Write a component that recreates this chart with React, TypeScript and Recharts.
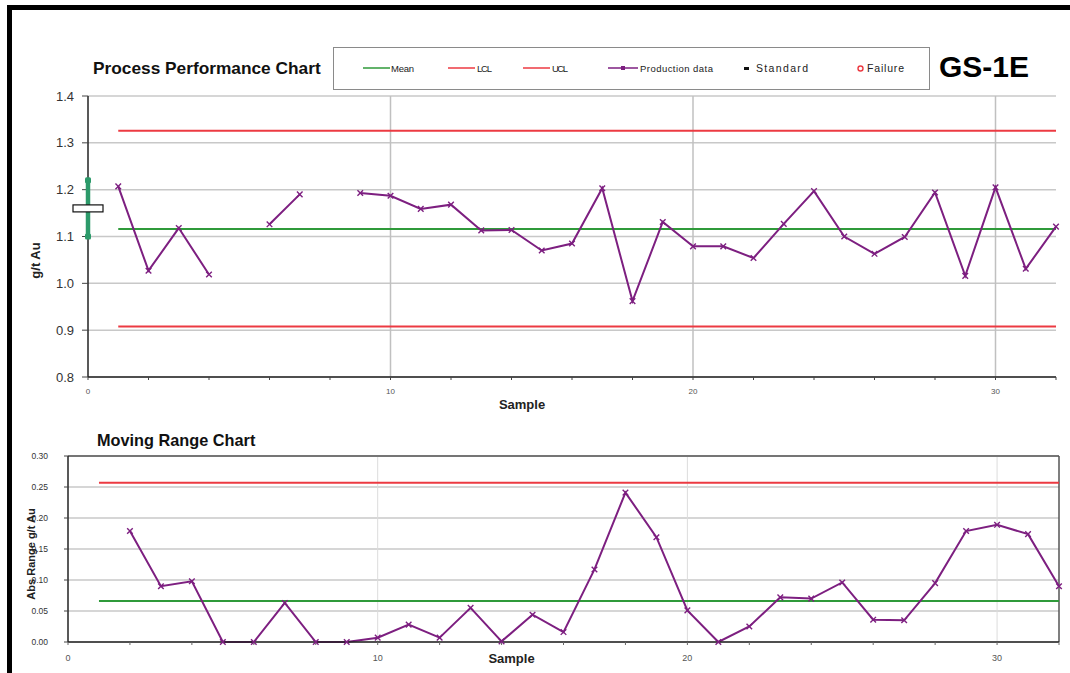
import React from 'react';
import {
  ComposedChart, Line, Scatter, XAxis, YAxis, CartesianGrid, ReferenceLine
} from 'recharts';

const FONT = '"Liberation Sans", Arial, sans-serif';

// sample numbers on the x axis
const samples = [1, 2, 3, 4, 5, 6, 7, 8, 9, 10, 11, 12, 13, 14, 15, 16,
  17, 18, 19, 20, 21, 22, 23, 24, 25, 26, 27, 28, 29, 30, 31, 32];

// g/t Au per sample (gaps = no assay)
const grade = [1.207, 1.027, 1.118, 1.019, null, 1.126, 1.190, null, 1.193, 1.187,
  1.159, 1.168, 1.113, 1.114, 1.070, 1.085, 1.203, 0.962, 1.131, 1.079,
  1.079, 1.054, 1.127, 1.197, 1.100, 1.063, 1.099, 1.194, 1.016, 1.205,
  1.031, 1.121];

// absolute moving range
const movingRange = [null, 0.179, 0.090, 0.098, 0, 0, 0.063, 0, 0, 0.007,
  0.028, 0.007, 0.055, 0.001, 0.044, 0.016, 0.117, 0.241, 0.169, 0.051,
  0, 0.025, 0.072, 0.070, 0.096, 0.036, 0.035, 0.095, 0.179, 0.189,
  0.174, 0.090];

const gradeMean = 1.116;
const gradeLCL = 0.908;
const gradeUCL = 1.326;
const rangeMean = 0.066;
const rangeUCL = 0.257;

// certified standard
const standardValue = 1.16;
const standardLow = 1.10;
const standardHigh = 1.22;

const gradeTicks = [0.8, 0.9, 1.0, 1.1, 1.2, 1.3, 1.4];
const rangeTicks = [0, 0.05, 0.1, 0.15, 0.2, 0.25, 0.3];
const sampleTicks = [0, 2, 4, 6, 8, 10, 12, 14, 16, 18, 20, 22, 24, 26, 28, 30, 32];
const majorSamples = [10, 20, 30];

const PURPLE = '#7d1f80';
const GREEN = '#2f9a3a';
const RED = '#ec3a42';
const STD_GREEN = '#2c9a6a';
const GRID = '#c8c8c8';

const processData = samples.map((s, i) => ({ sample: s, grade: grade[i] }));
const rangeData = samples.map((s, i) => ({ sample: s, range: movingRange[i] }));
const standardData = [{ sample: 0, value: standardValue }];
const standardEnds = [{ sample: 0, value: standardLow }, { sample: 0, value: standardHigh }];

const sampleLabel = (v: number) => (v % 10 === 0 ? String(v) : '');

// small "x" marker used for production points
const CrossDot = (props: any) => {
  const { cx, cy, value, index } = props;
  if (value == null || cx == null || cy == null) return <g key={`d${index}`} />;
  const s = 2.8;
  return (
    <path
      key={`d${index}`}
      d={`M${cx - s},${cy - s}L${cx + s},${cy + s}M${cx - s},${cy + s}L${cx + s},${cy - s}`}
      stroke={PURPLE}
      strokeWidth={1.4}
      fill="none"
    />
  );
};

const StandardBox = (props: any) => {
  const { cx, cy } = props;
  return <rect x={cx - 15} y={cy - 3.5} width={30} height={7} fill="#fff" stroke="#111" strokeWidth={1.2} />;
};

const StandardEnd = (props: any) => {
  const { cx, cy } = props;
  return <rect x={cx - 3} y={cy - 3} width={6} height={6} rx={1.5} fill={STD_GREEN} />;
};

const legendText = { fontSize: 9.5, fill: '#222', lengthAdjust: 'spacing' as const };

const Legend = () => (
  <div style={{ position: 'absolute', left: 333, top: 47, width: 597, height: 43, border: '1px solid #8a8a8a', boxSizing: 'border-box' }}>
    <svg width={595} height={41} style={{ display: 'block', fontFamily: FONT }}>
      <line x1={29} x2={56} y1={20} y2={20} stroke={GREEN} strokeWidth={1.5} />
      <text x={57} y={23.5} textLength={23} {...legendText}>Mean</text>
      <line x1={114} x2={141} y1={20} y2={20} stroke={RED} strokeWidth={1.5} />
      <text x={143} y={23.5} textLength={15} {...legendText}>LCL</text>
      <line x1={189} x2={216} y1={20} y2={20} stroke={RED} strokeWidth={1.5} />
      <text x={218} y={23.5} textLength={16} {...legendText}>UCL</text>
      <line x1={274} x2={304} y1={20} y2={20} stroke={PURPLE} strokeWidth={1.5} />
      <rect x={287} y={18} width={4} height={4} fill={PURPLE} />
      <text x={306} y={23.5} textLength={73} {...legendText}>Production data</text>
      <rect x={410} y={19} width={5} height={3} fill="#111" />
      <text x={422} y={23.5} textLength={52} {...legendText} fontSize={10.5}>Standard</text>
      <circle cx={526.5} cy={20.5} r={2.5} fill="none" stroke={RED} strokeWidth={1.4} />
      <text x={533} y={23.5} textLength={37} {...legendText} fontSize={10.5}>Failure</text>
    </svg>
  </div>
);

export default function App() {
  return (
    <div style={{ position: 'absolute', left: 0, top: 0, width: 1070, height: 673, background: '#fff', overflow: 'hidden', fontFamily: FONT }}>
      <div style={{ position: 'absolute', left: 7, top: 5, right: 0, bottom: 0, borderTop: '5px solid #000', borderLeft: '5px solid #000' }} />

      <div style={{ position: 'absolute', left: 93, top: 60, fontSize: 17.3, lineHeight: 1, fontWeight: 'bold', color: '#111' }}>
        Process Performance Chart
      </div>
      <Legend />
      <div style={{ position: 'absolute', left: 939, top: 52, fontSize: 30, lineHeight: 1, fontWeight: 'bold', color: '#000' }}>
        GS-1E
      </div>

      <div style={{ position: 'absolute', left: 0, top: 0 }}>
        <ComposedChart width={1070} height={420} data={processData} margin={{ top: 96, right: 14, left: 38, bottom: 9 }}>
          <CartesianGrid vertical={false} stroke={GRID} strokeWidth={1.5} />
          {majorSamples.map(s => (
            <ReferenceLine key={s} x={s} stroke="#c0c0c0" strokeWidth={1.5} />
          ))}
          <XAxis
            dataKey="sample"
            type="number"
            domain={[0, 32]}
            ticks={sampleTicks}
            tickFormatter={sampleLabel}
            interval={0}
            height={34}
            tickSize={3}
            tickMargin={8}
            axisLine={{ stroke: '#222', strokeWidth: 1.5 }}
            tickLine={{ stroke: '#444' }}
            tick={{ fontSize: 8, fill: '#555', fontFamily: FONT }}
            label={{ value: 'Sample', position: 'insideBottom', offset: 2, dx: -50, style: { fontSize: 13, fontWeight: 'bold', fill: '#222', fontFamily: FONT } }}
          />
          <YAxis
            type="number"
            domain={[0.8, 1.4]}
            ticks={gradeTicks}
            tickFormatter={(v: number) => v.toFixed(1)}
            width={50}
            tickSize={6}
            tickMargin={8}
            axisLine={{ stroke: '#222', strokeWidth: 1.5 }}
            tickLine={{ stroke: '#444' }}
            tick={{ fontSize: 13, fill: '#333', fontFamily: FONT }}
            label={{ value: 'g/t Au', angle: -90, position: 'insideLeft', offset: -3, dy: 24, style: { textAnchor: 'middle', fontSize: 13, fontWeight: 'bold', fill: '#222', fontFamily: FONT } }}
          />
          <ReferenceLine segment={[{ x: 1, y: gradeUCL }, { x: 32, y: gradeUCL }]} stroke={RED} strokeWidth={2} />
          <ReferenceLine segment={[{ x: 1, y: gradeLCL }, { x: 32, y: gradeLCL }]} stroke={RED} strokeWidth={2} />
          <ReferenceLine segment={[{ x: 1, y: gradeMean }, { x: 32, y: gradeMean }]} stroke={GREEN} strokeWidth={2} />
          <Scatter
            data={standardEnds}
            dataKey="value"
            shape={StandardEnd}
            line={{ stroke: STD_GREEN, strokeWidth: 4.5 }}
            isAnimationActive={false}
          />
          <Scatter data={standardData} dataKey="value" shape={StandardBox} isAnimationActive={false} />
          <Line
            dataKey="grade"
            stroke={PURPLE}
            strokeWidth={2}
            dot={CrossDot}
            activeDot={false}
            connectNulls={false}
            isAnimationActive={false}
          />
        </ComposedChart>
      </div>

      <div style={{ position: 'absolute', left: 97, top: 432, fontSize: 16.3, lineHeight: 1, fontWeight: 'bold', color: '#111' }}>
        Moving Range Chart
      </div>

      <div style={{ position: 'absolute', left: 0, top: 420 }}>
        <ComposedChart width={1070} height={253} data={rangeData} margin={{ top: 36, right: 11, left: 28, bottom: 3 }}>
          <CartesianGrid vertical={false} stroke={GRID} strokeWidth={1.5} />
          {majorSamples.map(s => (
            <ReferenceLine key={s} x={s} stroke="#dcdcdc" strokeWidth={1} />
          ))}
          <ReferenceLine y={0.3} stroke="#555" strokeWidth={1.5} />
          <ReferenceLine x={32} stroke="#555" strokeWidth={1.5} />
          <XAxis
            dataKey="sample"
            type="number"
            domain={[0, 32]}
            ticks={sampleTicks}
            tickFormatter={sampleLabel}
            interval={0}
            height={28}
            tickSize={3}
            tickMargin={10}
            axisLine={{ stroke: '#222', strokeWidth: 1.5 }}
            tickLine={{ stroke: '#666' }}
            tick={{ fontSize: 9, fill: '#555', fontFamily: FONT }}
            label={{ value: 'Sample', position: 'insideBottom', offset: 7, dx: -52, style: { fontSize: 13, fontWeight: 'bold', fill: '#222', fontFamily: FONT } }}
          />
          <YAxis
            type="number"
            domain={[0, 0.3]}
            ticks={rangeTicks}
            tickFormatter={(v: number) => v.toFixed(2)}
            width={40}
            tickSize={4}
            tickMargin={16}
            axisLine={{ stroke: '#222', strokeWidth: 1.5 }}
            tickLine={{ stroke: '#444' }}
            tick={{ fontSize: 8.5, fill: '#333', fontFamily: FONT }}
            label={{ value: 'Abs Range g/t Au', angle: -90, position: 'insideLeft', offset: 3, dy: 5, style: { textAnchor: 'middle', fontSize: 11, fontWeight: 'bold', fill: '#222', fontFamily: FONT } }}
          />
          <ReferenceLine segment={[{ x: 1, y: rangeUCL }, { x: 32, y: rangeUCL }]} stroke={RED} strokeWidth={2} />
          <ReferenceLine segment={[{ x: 1, y: rangeMean }, { x: 32, y: rangeMean }]} stroke={GREEN} strokeWidth={2} />
          <Line
            dataKey="range"
            stroke={PURPLE}
            strokeWidth={2}
            dot={CrossDot}
            activeDot={false}
            connectNulls={false}
            isAnimationActive={false}
          />
        </ComposedChart>
      </div>
    </div>
  );
}
